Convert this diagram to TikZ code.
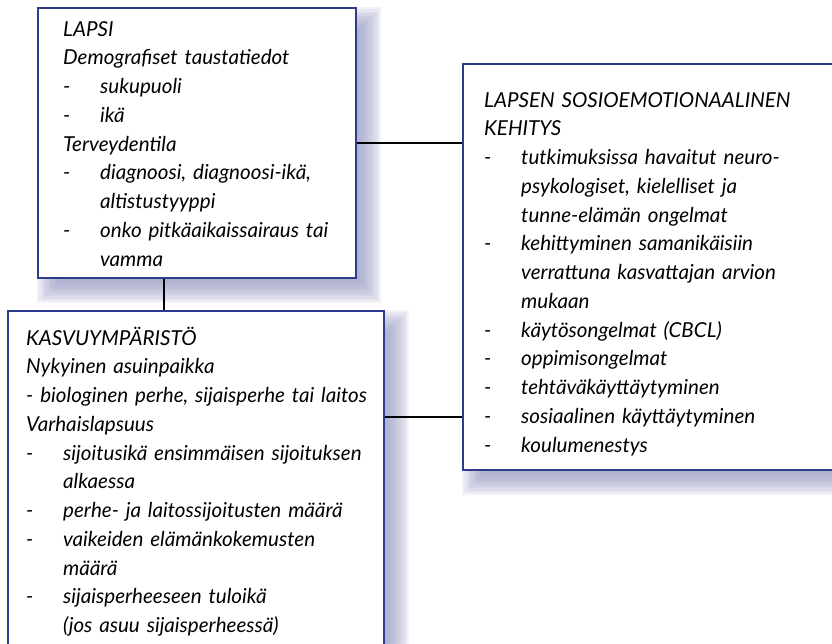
\documentclass[tikz,border=0pt]{standalone}
\usepackage{fontspec}
\setmainfont{Lato}
\definecolor{boxblue}{HTML}{2E3A8C}
\definecolor{shadowc}{HTML}{959BC4}
\pgfdeclarelayer{back}
\pgfdeclarelayer{shadowlayer}
\pgfsetlayers{back,shadowlayer,main}
\newcommand\itm[1]{\par\hangindent=37pt\hangafter=1\noindent\makebox[37pt][l]{-}#1}
\newcommand\firstline{\rule{0pt}{20pt}}
\newcommand\softshadow[1]{%
  \begin{pgfonlayer}{shadowlayer}
  \foreach \e in {12,9.6,...,-11}{%
    \fill[shadowc, fill opacity=0.12]
      ([shift={(12-\e,12-\e)}]#1.north west) rectangle ([shift={(12+\e,12+\e)}]#1.south east);
  }
  \end{pgfonlayer}}
\tikzset{
  box/.style={draw=boxblue, line width=2.6pt, fill=white, rectangle, inner sep=0pt},
  txt/.style={anchor=north west, inner sep=0pt, text width=390pt, align=left,
    font=\itshape\fontsize{20.6}{28.75}\selectfont},
  link/.style={draw=black, line width=2pt}
}
\begin{document}
\begin{tikzpicture}[x=1pt, y=-1pt]
\useasboundingbox (0,0) rectangle (832,643);
\clip (0,0) rectangle (832,643);
\begin{pgfonlayer}{back}
\fill[white] (0,0) rectangle (832,643);
\end{pgfonlayer}

\node[box, minimum width=318pt, minimum height=270pt] (box1) at (197,143) {};
\node[box, minimum width=376pt, minimum height=359pt] (box2) at (196,490.5) {};
\node[box, minimum width=387pt, minimum height=406pt] (box3) at (656.5,267) {};
\softshadow{box1}
\softshadow{box2}
\softshadow{box3}

\node[txt] (t1) at (63,16) {\parindent=0pt\parskip=0pt
\firstline LAPSI\par
Demografiset taustatiedot
\itm{sukupuoli}
\itm{ikä}
\par Terveydentila
\itm{diagnoosi, diagnoosi-ikä,\newline altistustyyppi}
\itm{onko pitkäaikaissairaus tai\newline vamma}\par};

\node[txt] (t2) at (26,325) {\parindent=0pt\parskip=0pt
\firstline KASVUYMPÄRISTÖ\par
Nykyinen asuinpaikka\par
- biologinen perhe, sijaisperhe tai laitos\par
Varhaislapsuus
\itm{sijoitusikä ensimmäisen sijoituksen\newline alkaessa}
\itm{perhe- ja laitossijoitusten määrä}
\itm{vaikeiden elämänkokemusten\newline määrä}
\itm{sijaisperheeseen tuloikä\newline (jos asuu sijaisperheessä)}\par};

\node[txt] (t3) at (484,87) {\parindent=0pt\parskip=0pt
\firstline LAPSEN SOSIOEMOTIONAALINEN\newline KEHITYS
\itm{tutkimuksissa havaitut neuro-\newline psykologiset, kielelliset ja\newline tunne-elämän ongelmat}
\itm{kehittyminen samanikäisiin\newline verrattuna kasvattajan arvion\newline mukaan}
\itm{käytösongelmat (CBCL)}
\itm{oppimisongelmat}
\itm{tehtäväkäyttäytyminen}
\itm{sosiaalinen käyttäytyminen}
\itm{koulumenestys}\par};

\coordinate (yA) at (0,417);
\coordinate (xV) at (164,0);
\draw[link] (box1.east) -- (box1.east -| box3.west);
\draw[link] (box1.south -| xV) -- (box2.north -| xV);
\draw[link] (box2.east |- yA) -- (box3.west |- yA);
\end{tikzpicture}
\end{document}
